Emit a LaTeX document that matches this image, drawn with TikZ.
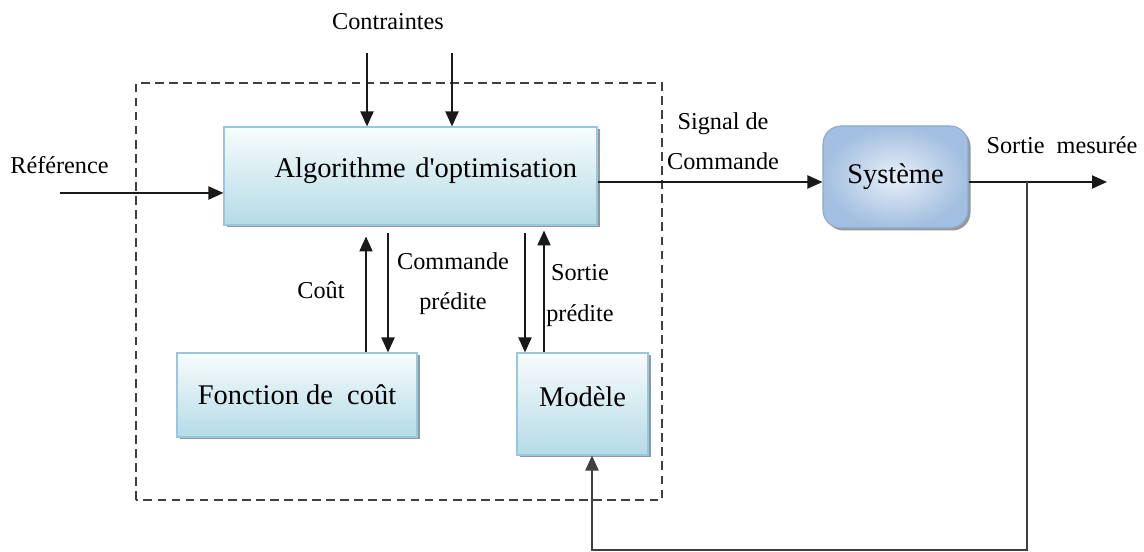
\documentclass[tikz,border=0pt]{standalone}
\usepackage{fontspec}
\setmainfont{Liberation Serif}
\usetikzlibrary{arrows.meta,calc,shadows}
\definecolor{boxtop}{RGB}{248,252,253}
\definecolor{boxbot}{RGB}{180,219,230}
\definecolor{boxline}{RGB}{150,200,225}
\definecolor{sysin}{RGB}{232,240,249}
\definecolor{sysout}{RGB}{162,190,224}
\definecolor{sysline}{RGB}{140,170,210}
\definecolor{wire}{RGB}{25,25,25}
\tikzset{
  >={Triangle[length=3mm,width=2.6mm]},
  mainfont/.style={font=\fontsize{16.2}{19}\selectfont},
  lblfont/.style={font=\fontsize{13.8}{23}\selectfont},
  block/.style={
    draw=boxline, line width=0.6pt, top color=boxtop, bottom color=boxbot,
    mainfont, align=center, inner sep=0pt,
    drop shadow={shadow xshift=0.05cm, shadow yshift=-0.05cm, fill=black!45, opacity=0.9}},
  sysblock/.style={
    block, draw=sysline, rounded corners=0.36cm, inner color=sysin, outer color=sysout},
  lbl/.style={lblfont, align=center, inner sep=0pt},
  % arrow "lanes"
  flow/.style={->, wire, line width=1.2pt},
  feed/.style={->, black!75, line width=1.2pt},
  zone/.style={draw=black!75, line width=0.9pt, dash pattern=on 5pt off 3pt},
}
\begin{document}
\begin{tikzpicture}
\useasboundingbox (0,0) rectangle (22.88,11.04);

% ---------- controller zone ----------
\draw[zone] (2.72,1.04) rectangle (13.24,9.38);

% ---------- blocks ----------
\node[block, minimum height=1.96cm, text width=6.66cm, inner xsep=0.4cm,
  align=right, text depth=0.33cm] (algo) at (8.21,7.52) {Algorithme d\textquotesingle optimisation};
\node[block, minimum width=4.8cm, minimum height=1.68cm] (cost) at (5.94,3.14) {Fonction de\ \ coût};
\node[block, minimum width=2.62cm, minimum height=2.04cm, text depth=0.3cm] (model) at (11.65,2.96) {Modèle};
\node[sysblock, minimum width=2.9cm, minimum height=2.04cm] (sys) at (17.91,7.5) {Système};

% ---------- labels ----------
\node[lbl] (lcon) at (7.76,10.6) {Contraintes};
\node[lbl] (lref) at (1.19,7.74) {Référence};
\node[lbl] (lsig) at (14.46,8.21) {Signal de\\Commande};
\node[lbl] (lout) at (21.24,8.14) {Sortie\ \ mesurée};
\node[lbl] (lcost) at (6.42,5.24) {Coût};
\node[lbl] (lcmd) at (9.06,5.37) {Commande\\prédite};
\node[lbl] (lpred) at (11.6,5.13) {Sortie\\prédite};

% ---------- end points ----------
\coordinate (c1) at (7.34,9.98);
\coordinate (c2) at (9.04,9.98);
\coordinate (ref) at (1.2,7.18);
\coordinate (out) at (22.14,7.4);
\coordinate (tap) at (20.54,7.4);
\coordinate (bot) at (20.54,0.04);

% ---------- arrows ----------
\draw[flow] (c1) -- (c1 |- algo.north);
\draw[flow] (c2) -- (c2 |- algo.north);
\draw[flow] (ref) -- (ref -| algo.west);
\draw[flow] ([yshift=-0.12cm]algo.east) -- ([yshift=-0.12cm]algo.east -| sys.west);
\draw[flow] ([yshift=-0.1cm]sys.east) -- (out);

\draw[flow] ([xshift=1.38cm]cost.north) -- ++(0,2.32);
\draw[flow] ([xshift=1.82cm]cost.north) ++(0,2.38) -- ([xshift=1.82cm]cost.north);
\draw[flow] ([xshift=-1.15cm]model.north) ++(0,2.38) -- ([xshift=-1.15cm]model.north);
\draw[flow] ([xshift=-0.77cm]model.north) -- ++(0,2.44);

% ---------- feedback ----------
\draw[feed] (tap) -- (bot) -| ([xshift=0.19cm]model.south);

\end{tikzpicture}
\end{document}
